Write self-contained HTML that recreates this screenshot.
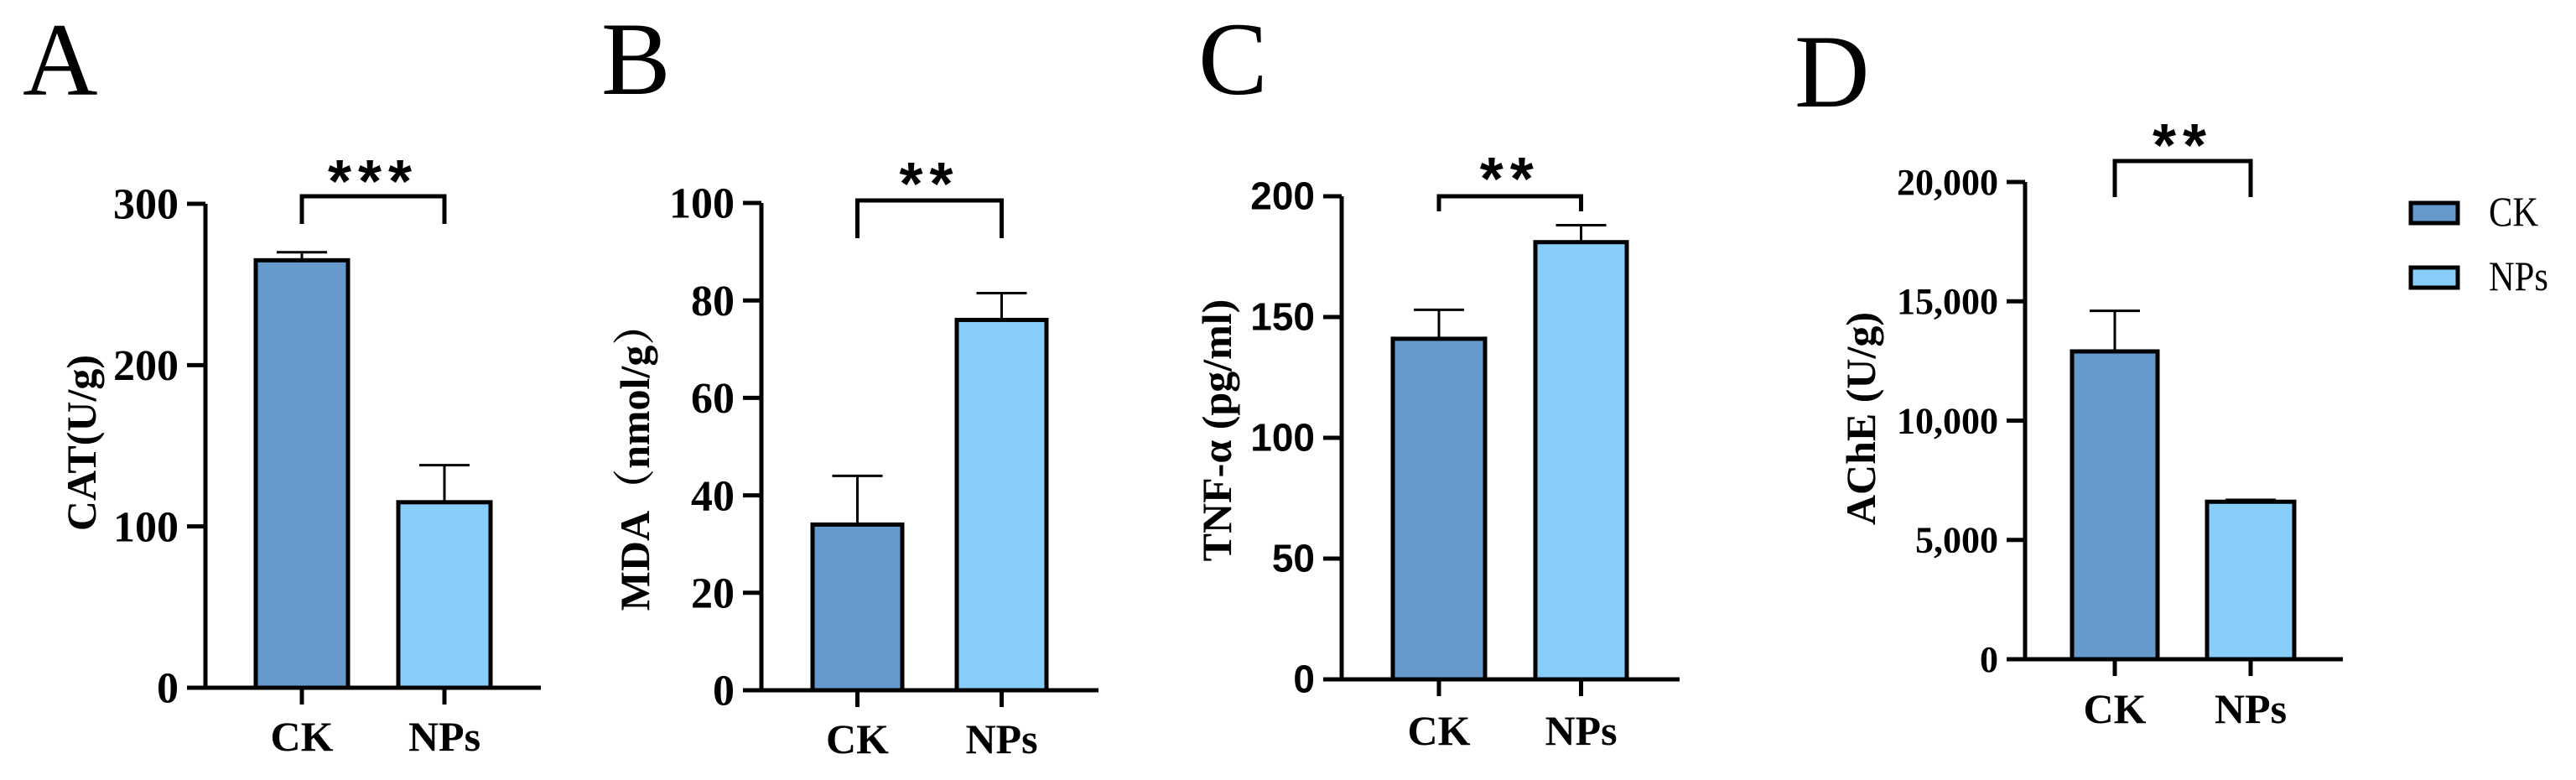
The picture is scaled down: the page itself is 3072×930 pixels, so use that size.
<!DOCTYPE html>
<html><head><meta charset="utf-8"><style>
html,body{margin:0;padding:0;background:#fff;}
svg{display:block;}
</style></head><body>
<svg id="fig" width="3072" height="930" viewBox="0 0 3072 930" xmlns="http://www.w3.org/2000/svg">
<g id="panels"></g>
<g>
  <rect x="2875" y="242" width="56" height="24" fill="#6699cc" stroke="#000" stroke-width="5"/>
  <text x="2968" y="269" font-family="Liberation Serif, serif" font-size="50" transform="translate(2968,0) scale(0.85,1) translate(-2968,0)">CK</text>
  <rect x="2875" y="319" width="56" height="24" fill="#87cefa" stroke="#000" stroke-width="5"/>
  <text x="2968" y="346" font-family="Liberation Serif, serif" font-size="50" transform="translate(2968,0) scale(0.85,1) translate(-2968,0)">NPs</text>
</g>
</svg>
<script>
const categories = ['CK', 'NPs'];
const aMeans = [265, 115];
const aErrTop = [270, 138];
const aTicks = [0, 100, 200, 300];
const bMeans = [34, 76];
const bErrTop = [44, 81.5];
const bTicks = [0, 20, 40, 60, 80, 100];
const cMeans = [141, 181];
const cErrTop = [153, 188];
const cTicks = [0, 50, 100, 150, 200];
const dMeans = [12900, 6600];
const dErrTop = [14600, 6680];
const dTicks = [0, 5000, 10000, 15000, 20000];
const dTickLabels = ['0', '5,000', '10,000', '15,000', '20,000'];
const sigLabels = ['***', '**', '**', '**'];

const NS = 'http://www.w3.org/2000/svg';
const root = document.getElementById('panels');
function mk(tag, attrs, parent, text) {
  const e = document.createElementNS(NS, tag);
  for (const k in attrs) e.setAttribute(k, attrs[k]);
  if (text !== undefined) e.textContent = text;
  parent.appendChild(e);
  return e;
}
const colors = ['#6699cc', '#87cefa'];

const layouts = [
  {id:'a', letter:'A', lx:27, ly:113, axX:245, axEnd:645, y0:820, yTop:243, max:300, bars:[[305,415],[475,585]], brY:234, brLeg:267, starY:215, title:'CAT(U/g)', titleX:114, titleY:528, tickFont:'Liberation Serif', tickSize:52, means:aMeans, err:aErrTop, ticks:aTicks, tl:aTicks.map(String), starFont:'Liberation Sans', labY:895},
  {id:'b', letter:'B', lx:717, ly:112, axX:908, axEnd:1310, y0:823, yTop:242, max:100, bars:[[969,1076],[1141,1248]], brY:239, brLeg:284, starY:218, title:'MDA\uFF08nmol/g\uFF09', titleX:774, titleY:545, tickFont:'Liberation Serif', tickSize:52, means:bMeans, err:bErrTop, ticks:bTicks, tl:bTicks.map(String), starFont:'Liberation Sans', labY:898},
  {id:'c', letter:'C', lx:1429, ly:112, axX:1600, axEnd:2003, y0:810, yTop:234, max:200, bars:[[1661,1771],[1831,1940]], brY:234, brLeg:252, starY:212, title:'TNF-\u03B1 (pg/ml)', titleX:1468, titleY:513, tickFont:'Liberation Sans', tickSize:46, means:cMeans, err:cErrTop, ticks:cTicks, tl:cTicks.map(String), starFont:'Liberation Sans', labY:888},
  {id:'d', letter:'D', lx:2140, ly:127, axX:2415, axEnd:2794, y0:786, yTop:217, max:20000, bars:[[2471,2573],[2632,2736]], brY:192, brLeg:235, starY:172, title:'AChE (U/g)', titleX:2236, titleY:499, tickFont:'Liberation Serif', tickSize:44, means:dMeans, err:dErrTop, ticks:dTicks, tl:dTickLabels, starFont:'Liberation Sans', labY:862}
];

layouts.forEach((L, pi) => {
  const g = mk('g', {}, root);
  
  
  const y = v => L.y0 - (v / L.max) * (L.y0 - L.yTop);
  const letter = mk('text', {x:L.lx, y:L.ly, 'font-family':'Liberation Serif, serif', 'font-size':124}, g, L.letter);
  
  
  L.means.forEach((m, i) => {
    const [x1, x2] = L.bars[i];
    const cx = (x1 + x2) / 2;
    const bar = mk('rect', {x:x1, y:y(m), width:x2 - x1, height:L.y0 - y(m), fill:colors[i], stroke:'#000', 'stroke-width':5}, g);
    
    
    const eb = mk('path', {d:'M' + cx + ' ' + y(m) + 'V' + y(L.err[i]) + 'M' + (cx - 30) + ' ' + y(L.err[i]) + 'H' + (cx + 30), stroke:'#000', 'stroke-width':3, fill:'none'}, g);
    
    
    const tk = mk('line', {x1:cx, x2:cx, y1:L.y0, y2:L.y0 + 20, stroke:'#000', 'stroke-width':5}, g);
    
    
    const lab = mk('text', {x:cx, y:L.labY, 'text-anchor':'middle', 'font-family':'Liberation Serif, serif', 'font-weight':'bold', 'font-size':50}, g, categories[i]);
    
    
  });
  const ax = mk('path', {d:'M' + L.axX + ' ' + L.yTop + 'V' + L.y0 + 'M' + (L.axX - 22) + ' ' + L.y0 + 'H' + L.axEnd, stroke:'#000', 'stroke-width':5, fill:'none'}, g);
  
  
  L.ticks.forEach((t, i) => {
    const tl = mk('line', {x1:L.axX - 22, x2:L.axX, y1:y(t), y2:y(t), stroke:'#000', 'stroke-width':5}, g);
    
    
    const tx = mk('text', {x:L.axX - 32, y:y(t) + L.tickSize * 0.34, 'text-anchor':'end', 'font-family':L.tickFont + ', serif', 'font-weight':'bold', 'font-size':L.tickSize}, g, L.tl[i]);
    
    
  });
  const tt = mk('text', {x:L.titleX, y:L.titleY, 'text-anchor':'middle', 'font-family':'Liberation Serif, Noto Serif CJK SC, serif', 'font-weight':'bold', 'font-size':50, transform:'rotate(-90 ' + L.titleX + ' ' + L.titleY + ')'}, g, L.title);
  
  
  const c1 = (L.bars[0][0] + L.bars[0][1]) / 2, c2 = (L.bars[1][0] + L.bars[1][1]) / 2;
  const br = mk('path', {d:'M' + c1 + ' ' + L.brLeg + 'V' + L.brY + 'H' + c2 + 'V' + L.brLeg, stroke:'#000', 'stroke-width':5, fill:'none'}, g);
  
  
  const st = mk('text', {x:(c1 + c2) / 2, y:L.starY + 26, 'text-anchor':'middle', 'font-family':L.starFont + ', sans-serif', 'font-weight':'bold', 'font-size':72, 'letter-spacing':8}, g, sigLabels[pi]);
  
  
});
</script>
</body></html>
